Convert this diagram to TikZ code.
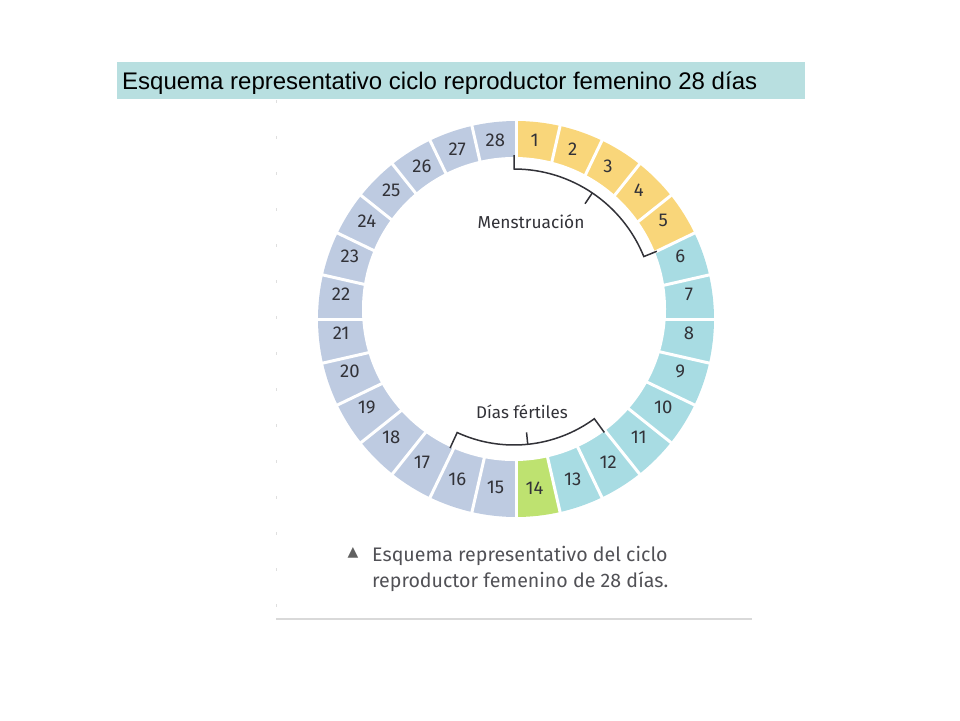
\documentclass[tikz,border=0pt]{standalone}
\usepackage{fontspec}
\setmainfont{Fira Sans}
\newfontfamily\titlefont{Liberation Sans}
\newfontfamily\symfont{DejaVu Sans}
\usepackage{tikz,xcolor}
\usetikzlibrary{positioning}
\definecolor{menscol}{RGB}{249,214,122}
\definecolor{fertcol}{RGB}{168,220,227}
\definecolor{ovucol}{RGB}{190,226,112}
\definecolor{restcol}{RGB}{190,203,225}
\definecolor{boxcol}{RGB}{184,223,224}
\definecolor{numcol}{RGB}{50,50,56}
\tikzstyle{bracket} = [line width=1.5pt,draw=numcol]
\tikzstyle{daynum} = [font=\fontsize{18.5}{20}\selectfont,text=numcol,inner sep=0pt]

\begin{document}
\begin{tikzpicture}[x=1pt,y=1pt,every node/.style={inner sep=0pt}]
    \useasboundingbox (0,0) rectangle (960,-720);
    % title
    \fill[boxcol] (117,-62) rectangle (805,-99);
    \node (title) [anchor=base west, font=\titlefont\fontsize{24}{26}\selectfont] at (122,-89) {Esquema representativo ciclo reproductor femenino 28 días};
    % frame of the figure
    \draw[gray!25, line width=1pt, dash pattern=on 3pt off 33pt] (276,-100) -- (276,-619);
    \draw[gray!30, line width=1.5pt] (276,-619) -- (752,-619);
    % the ring
    \coordinate (O) at (516,-319);
    \coordinate (I) at (514,-309);
    \coordinate (M) at (515,-314);
    \foreach \k in {1,...,5} {\fill[menscol] (O) -- ([shift={(90-\k*360/28+360/28:198)}]O) arc[start angle=90-\k*360/28+360/28, end angle=90-\k*360/28, radius=198] -- cycle;}
    \foreach \k in {6,...,13} {\fill[fertcol] (O) -- ([shift={(90-\k*360/28+360/28:198)}]O) arc[start angle=90-\k*360/28+360/28, end angle=90-\k*360/28, radius=198] -- cycle;}
    \foreach \k in {14} {\fill[ovucol] (O) -- ([shift={(90-\k*360/28+360/28:198)}]O) arc[start angle=90-\k*360/28+360/28, end angle=90-\k*360/28, radius=198] -- cycle;}
    \foreach \k in {15,...,28} {\fill[restcol] (O) -- ([shift={(90-\k*360/28+360/28:198)}]O) arc[start angle=90-\k*360/28+360/28, end angle=90-\k*360/28, radius=198] -- cycle;}
    \foreach \k in {1,...,28} {\draw[white, line width=3pt] (O) -- ([shift={(90-\k*360/28:202)}]O);}
    \fill[white] (I) circle[radius=152];
    % day numbers
    \foreach \k in {1,...,28} {\node (d\k) [daynum] at ([shift={(90-\k*360/28+180/28:175)}]M) {\k};}
    % brackets
    \draw[bracket] ([shift={(90:154)}]I) -- ([shift={(90:140)}]I) arc[start angle=90, end angle=22, radius=140] -- ([shift={(22:154)}]I);
    \draw[bracket] ([shift={(56:140)}]I) -- ([shift={(56:127)}]I);
    \draw[bracket] ([shift={(-114.7:153)}]I) -- ([shift={(-114.7:136)}]I) arc[start angle=-114.7, end angle=-53.8, radius=136] -- ([shift={(-53.8:153)}]I);
    \draw[bracket] ([shift={(-84.2:136)}]I) -- ([shift={(-84.2:124)}]I);
    \node (mens) [font=\fontsize{17.3}{19}\selectfont, text=numcol] at (531,-222) {Menstruación};
    \node (fert) [font=\fontsize{17}{19}\selectfont, text=numcol] at (522,-412) {Días fértiles};
    % caption
    \node (tri) [font=\symfont\fontsize{14}{15}\selectfont, text=gray!75!black] at (353,-553) {▲};
    \node (caption) [anchor=west, align=left, font=\fontsize{19.6}{26}\selectfont, text=numcol!85!white] at (372,-569) {Esquema representativo del ciclo\\reproductor femenino de 28 días.};
\end{tikzpicture}
\end{document}
